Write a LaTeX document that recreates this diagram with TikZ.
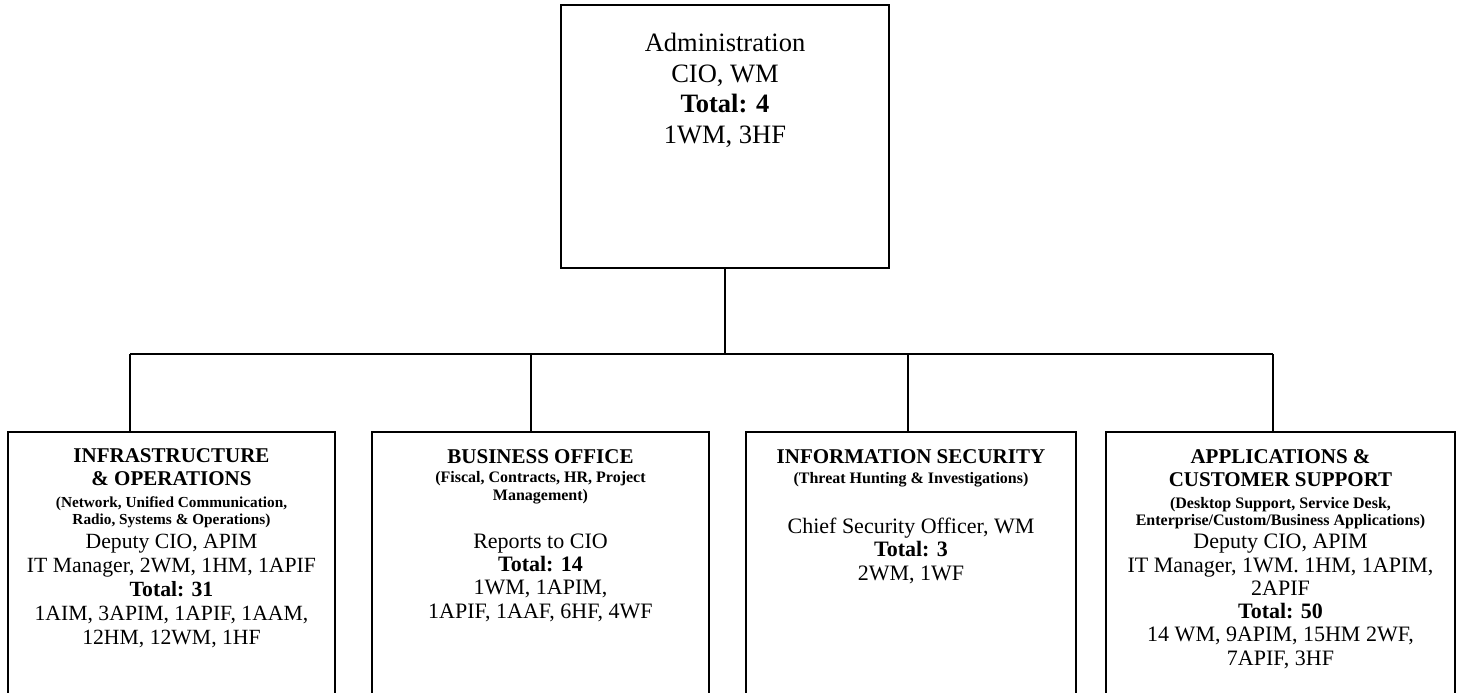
\documentclass[tikz,border=0pt]{standalone}
\usepackage{fontspec}
\setmainfont{Liberation Serif}
\begin{document}
\begin{tikzpicture}[x=1pt,y=-1pt,
  boxshape/.style={draw, line width=1.7pt, inner sep=0pt, rectangle},
  conn/.style={line width=1.3pt},
  busline/.style={line width=2.4pt},
  toptxt/.style={inner sep=0pt, align=center, font=\fontsize{26.5}{30.5}\selectfont},
  headtxt/.style={inner sep=0pt, align=center, font=\bfseries\fontsize{21}{23.5}\selectfont},
  subtxt/.style={inner sep=0pt, align=center, font=\bfseries\fontsize{16}{18}\selectfont},
  bodytxt/.style={inner sep=0pt, align=center, font=\fontsize{22}{23.3}\selectfont}
]
\clip (0,0) rectangle (1460,693);
\fill[white] (0,0) rectangle (1460,693);

% boxes
\node[boxshape, minimum width=328pt, minimum height=263pt] (admin) at (725,136.5) {};
\node[boxshape, minimum width=327pt, minimum height=273pt] (infra) at (171.5,568.5) {};
\node[boxshape, minimum width=337pt, minimum height=273pt] (bus) at (540.5,568.5) {};
\node[boxshape, minimum width=330pt, minimum height=273pt] (sec) at (911,568.5) {};
\node[boxshape, minimum width=349pt, minimum height=273pt] (app) at (1280.5,568.5) {};

% connectors
\coordinate (busL) at (130,354);
\coordinate (busR) at (1273,354);
\coordinate (dropB) at (531,354);
\coordinate (dropC) at (908,354);
\draw[conn] (admin.south) -- (admin.south |- busL);
\draw[busline] (busL) -- (busR);
\draw[conn] (busL) -- (busL |- infra.north);
\draw[conn] (dropB) -- (dropB |- bus.north);
\draw[conn] (dropC) -- (dropC |- sec.north);
\draw[conn] (busR) -- (busR |- app.north);

% texts
\node[toptxt, anchor=north] (admintxt) at (725,33) {Administration\\CIO, WM\\\textbf{Total: 4}\\1WM, 3HF};

\node[headtxt, anchor=north] (infrahd) at (171.5,448) {INFRASTRUCTURE\\\& OPERATIONS};
\node[subtxt, anchor=north, font=\bfseries\fontsize{15.3}{17.5}\selectfont] (infrasub) at (171.5,496.5) {(Network, Unified Communication,\\Radio, Systems \& Operations)};
\node[bodytxt, anchor=north, font=\fontsize{21.7}{24}\selectfont] (infrabody) at (171.5,534) {Deputy CIO, APIM\\IT Manager, 2WM, 1HM, 1APIF\\\textbf{Total: 31}\\1AIM, 3APIM, 1APIF, 1AAM,\\12HM, 12WM, 1HF};

\node[headtxt, anchor=north] (bushd) at (540.5,449) {BUSINESS OFFICE};
\node[subtxt, anchor=north] (bussub) at (540.5,471) {(Fiscal, Contracts, HR, Project\\Management)};
\node[bodytxt, anchor=north] (busbody) at (540.5,533.5) {Reports to CIO\\\textbf{Total: 14}\\1WM, 1APIM,\\1APIF, 1AAF, 6HF, 4WF};

\node[headtxt, anchor=north] (sechd) at (911,449) {INFORMATION SECURITY};
\node[subtxt, anchor=north] (secsub) at (911,472.5) {(Threat Hunting \& Investigations)};
\node[bodytxt, anchor=north] (secbody) at (911,518) {Chief Security Officer, WM\\\textbf{Total: 3}\\2WM, 1WF};

\node[headtxt, anchor=north] (apphd) at (1280.5,449) {APPLICATIONS \&\\CUSTOMER SUPPORT};
\node[subtxt, anchor=north, font=\bfseries\fontsize{16}{17.5}\selectfont] (appsub) at (1280.5,497) {(Desktop Support, Service Desk,\\Enterprise/Custom/Business Applications)};
\node[bodytxt, anchor=north] (appbody) at (1280.5,534) {Deputy CIO, APIM\\IT Manager, 1WM. 1HM, 1APIM,\\2APIF\\\textbf{Total: 50}\\14 WM, 9APIM, 15HM 2WF,\\7APIF, 3HF};
\end{tikzpicture}
\end{document}
